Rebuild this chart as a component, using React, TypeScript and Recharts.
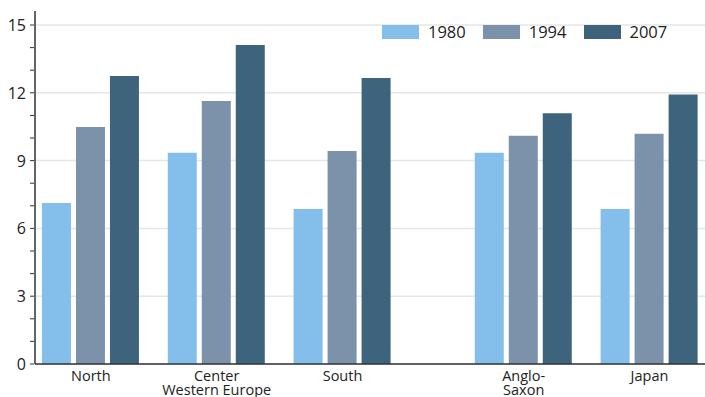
import React from 'react';
import { BarChart, Bar, XAxis, YAxis, CartesianGrid } from 'recharts';

// Regions, and where each group sits on the x scale (Anglo-Saxon block is set apart)
const regions = ['North', 'Center\nWestern Europe', 'South', 'Anglo-\nSaxon', 'Japan'];
const regionSlots = [0, 1, 2, 3.44, 4.44];

const v1980 = [7.12, 9.35, 6.86, 9.35, 6.86];
const v1994 = [10.49, 11.64, 9.42, 10.1, 10.19];
const v2007 = [12.74, 14.12, 12.65, 11.1, 11.92];

const yTicks = [0, 1, 2, 3, 4, 5, 6, 7, 8, 9, 10, 11, 12, 13, 14, 15];
const yLabelled = [0, 3, 6, 9, 12, 15];

const series = [
  { key: 'y1980', name: '1980', color: '#83bfea' },
  { key: 'y1994', name: '1994', color: '#7c92aa' },
  { key: 'y2007', name: '2007', color: '#3e647d' },
];

const data = regions.map((name, i) => ({
  name,
  slot: regionSlots[i],
  y1980: v1980[i],
  y1994: v1994[i],
  y2007: v2007[i],
}));

const FONT = '"Open Sans", "DejaVu Sans", sans-serif';

function RegionTick({ x, y, payload }: any) {
  const idx = regionSlots.indexOf(payload.value);
  const lines = idx >= 0 ? regions[idx].split('\n') : [];
  return (
    <text x={x} y={y} textAnchor="middle" fontFamily={FONT} fontSize={14.5} fill="#222">
      {lines.map((l, i) => (
        <tspan key={i} x={x} dy={i === 0 ? 9 : 14}>{l}</tspan>
      ))}
    </text>
  );
}

function ValueTick({ x, y, payload }: any) {
  const labelled = yLabelled.includes(payload.value);
  return (
    <g>
      <line x1={x + 3} x2={x + 7} y1={y} y2={y} stroke="#333" strokeWidth={1} />
      {labelled && (
        <text x={x - 1} y={y} dy={6} textAnchor="end" fontFamily={FONT} fontSize={16} fill="#222">
          {payload.value}
        </text>
      )}
    </g>
  );
}

function LegendBox() {
  return (
    <div
      style={{
        position: 'absolute',
        top: 20,
        left: 382,
        display: 'flex',
        fontFamily: FONT,
        fontSize: 16.5,
        color: '#222',
      }}
    >
      {series.map((s) => (
        <div key={s.key} style={{ display: 'flex', alignItems: 'center', marginRight: 17 }}>
          <div style={{ width: 37, height: 14, background: s.color, marginRight: 9 }} />
          <span>{s.name}</span>
        </div>
      ))}
    </div>
  );
}

export default function App() {
  return (
    <div style={{ position: 'absolute', left: 0, top: 0, width: 705, height: 397, background: '#fff' }}>
      <BarChart
        width={705}
        height={397}
        data={data}
        margin={{ top: 11, right: 0, bottom: 0, left: 0 }}
        barGap={5}
      >
        <CartesianGrid
          vertical={false}
          horizontalValues={yLabelled}
          stroke="#e6e6e6"
          strokeWidth={1.5}
        />
        <XAxis
          xAxisId="top"
          orientation="top"
          type="number"
          dataKey="slot"
          domain={[-0.444, 4.881]}
          tick={false}
          tickLine={false}
          height={0}
          axisLine={{ stroke: '#333', strokeWidth: 1.5 }}
        />
        <XAxis
          type="number"
          dataKey="slot"
          domain={[-0.444, 4.881]}
          ticks={regionSlots}
          interval={0}
          tick={<RegionTick />}
          tickLine={false}
          axisLine={{ stroke: '#333', strokeWidth: 1.5 }}
          height={33}
          allowDataOverflow
        />
        <YAxis
          domain={[0, 15.62]}
          ticks={yTicks}
          interval={0}
          tick={<ValueTick />}
          tickLine={false}
          axisLine={{ stroke: '#333', strokeWidth: 1.5 }}
          width={35}
          allowDataOverflow
        />
        {series.map((s) => (
          <Bar
            key={s.key}
            dataKey={s.key}
            name={s.name}
            fill={s.color}
            barSize={29}
            isAnimationActive={false}
          />
        ))}
      </BarChart>
      <LegendBox />
    </div>
  );
}
